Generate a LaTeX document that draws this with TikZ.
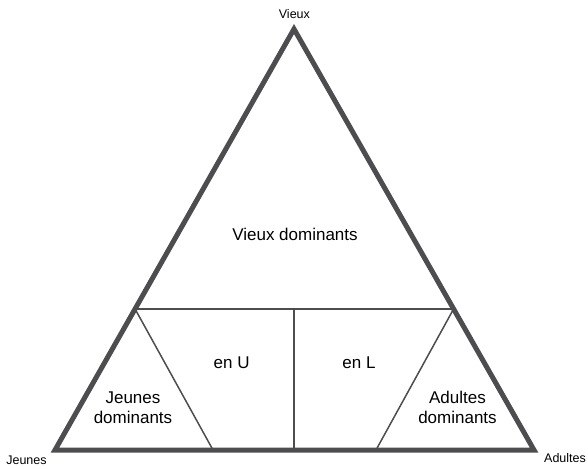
\documentclass[tikz,border=0pt]{standalone}
\usepackage{fontspec}
\setmainfont{Liberation Sans}
\usetikzlibrary{calc}
\definecolor{edgegray}{HTML}{4D4D4F}
\begin{document}
\begin{tikzpicture}[x=1pt,y=-1pt,
  outerline/.style={draw=edgegray, line width=5pt, line join=miter},
  innerline/.style={draw=edgegray, line width=1.5pt},
  big/.style={font=\fontsize{17}{20}\selectfont, inner sep=0pt, anchor=base, text=black},
  small/.style={font=\fontsize{12.5}{15}\selectfont, inner sep=0pt, anchor=base, text=black}]
\useasboundingbox (0,0) rectangle (588,468);
% corners
\coordinate (A) at (294,29);
\coordinate (B) at (55,450);
\coordinate (C) at (534,450);
% inner points
\coordinate (P) at ($(A)!0.665!(B)$);
\coordinate (Q) at ($(A)!0.665!(C)$);
\coordinate (M) at (294,309);
\coordinate (Mb) at (294,450);
\coordinate (L) at (213,450);
\coordinate (R) at (376,450);
% inner lines
\draw[innerline] (P) -- (Q);
\draw[innerline] (M) -- (Mb);
\draw[innerline] (P) -- (L);
\draw[innerline] (Q) -- (R);
% outer triangle
\draw[outerline] (A) -- (B) -- (C) -- cycle;
% corner labels
\node[small] (tV) at (294.4,19) {Vieux};
\node[small] (tJ) at (26.5,464) {Jeunes};
\node[small] (tA) at (565,462) {Adultes};
% region labels
\node[big] (vd) at (295,240) {Vieux dominants};
\node[big] (eu) at (231.7,368.3) {en U};
\node[big] (el) at (359,368.3) {en L};
\node[big] (jd1) at (133,403.3) {Jeunes};
\node[big] (jd2) at (133,423.3) {dominants};
\node[big] (ad1) at (457.5,403.3) {Adultes};
\node[big] (ad2) at (457.5,423.3) {dominants};
\end{tikzpicture}
\end{document}
